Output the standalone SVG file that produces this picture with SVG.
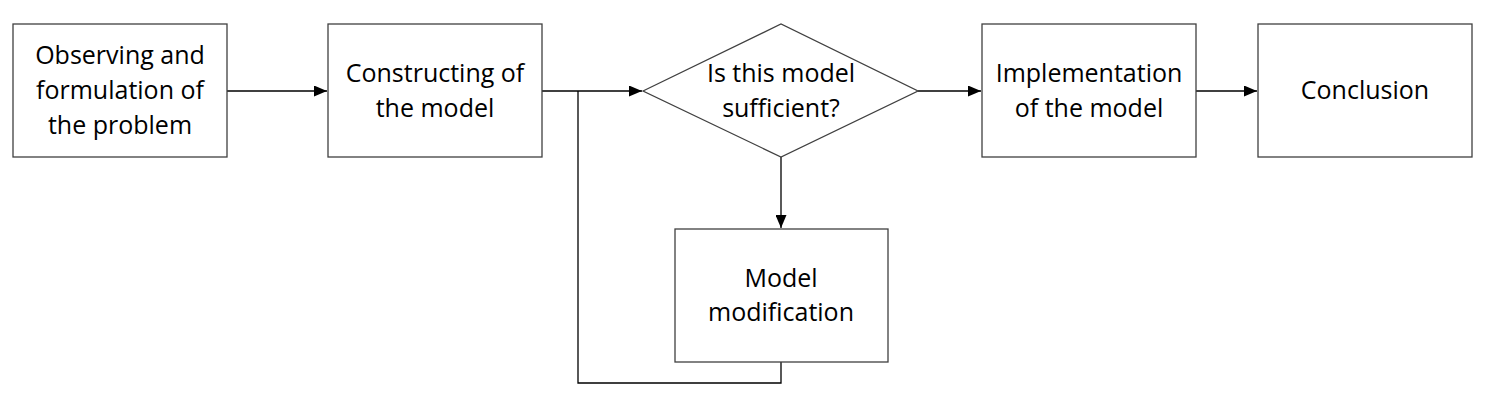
<svg xmlns="http://www.w3.org/2000/svg" width="1488" height="401" viewBox="0 0 1488 401">
<style>
.box{fill:#fff;stroke:#404040;stroke-width:1.3}
.t{font-family:"Open Sans","Liberation Sans",Arial,sans-serif;font-size:25px;fill:#000;text-anchor:middle}
.c{fill:none;stroke:#000;stroke-width:1.3}
</style>
<defs>
<marker id="ah" markerWidth="13" markerHeight="11" refX="13" refY="5.5" orient="auto" markerUnits="userSpaceOnUse">
<path d="M0,0 L13,5.5 L0,11 Z" fill="#000"/>
</marker>
</defs>
<rect width="1488" height="401" fill="#fff"/>
<g id="connectors">
<line class="c" x1="227" y1="91" x2="327" y2="91" marker-end="url(#ah)"/>
<line class="c" x1="542" y1="91" x2="642" y2="91" marker-end="url(#ah)"/>
<line class="c" x1="918" y1="91" x2="981" y2="91" marker-end="url(#ah)"/>
<line class="c" x1="1196" y1="91" x2="1257" y2="91" marker-end="url(#ah)"/>
<line class="c" x1="781" y1="157" x2="781" y2="228" marker-end="url(#ah)"/>
<polyline class="c" points="781,362 781,383 578,383 578,91"/>
</g>
<g id="n1">
<rect class="box" x="13" y="24" width="214" height="133"/>
<text class="t" x="120" y="64">Observing and</text>
<text class="t" x="120" y="99">formulation of</text>
<text class="t" x="120" y="134">the problem</text>
</g>
<g id="n2">
<rect class="box" x="328" y="24" width="214" height="133"/>
<text class="t" x="435" y="82">Constructing of</text>
<text class="t" x="435" y="117">the model</text>
</g>
<g id="n3">
<polygon class="box" points="643,91 781,24 918,91 781,157"/>
<text class="t" x="781" y="82">Is this model</text>
<text class="t" x="781" y="117">sufficient?</text>
</g>
<g id="n4">
<rect class="box" x="675" y="229" width="213" height="133"/>
<text class="t" x="781" y="287">Model</text>
<text class="t" x="781" y="321">modification</text>
</g>
<g id="n5">
<rect class="box" x="982" y="24" width="214" height="133"/>
<text class="t" x="1089" y="82">Implementation</text>
<text class="t" x="1089" y="117">of the model</text>
</g>
<g id="n6">
<rect class="box" x="1258" y="24" width="214" height="133"/>
<text class="t" x="1365" y="99">Conclusion</text>
</g>
</svg>
